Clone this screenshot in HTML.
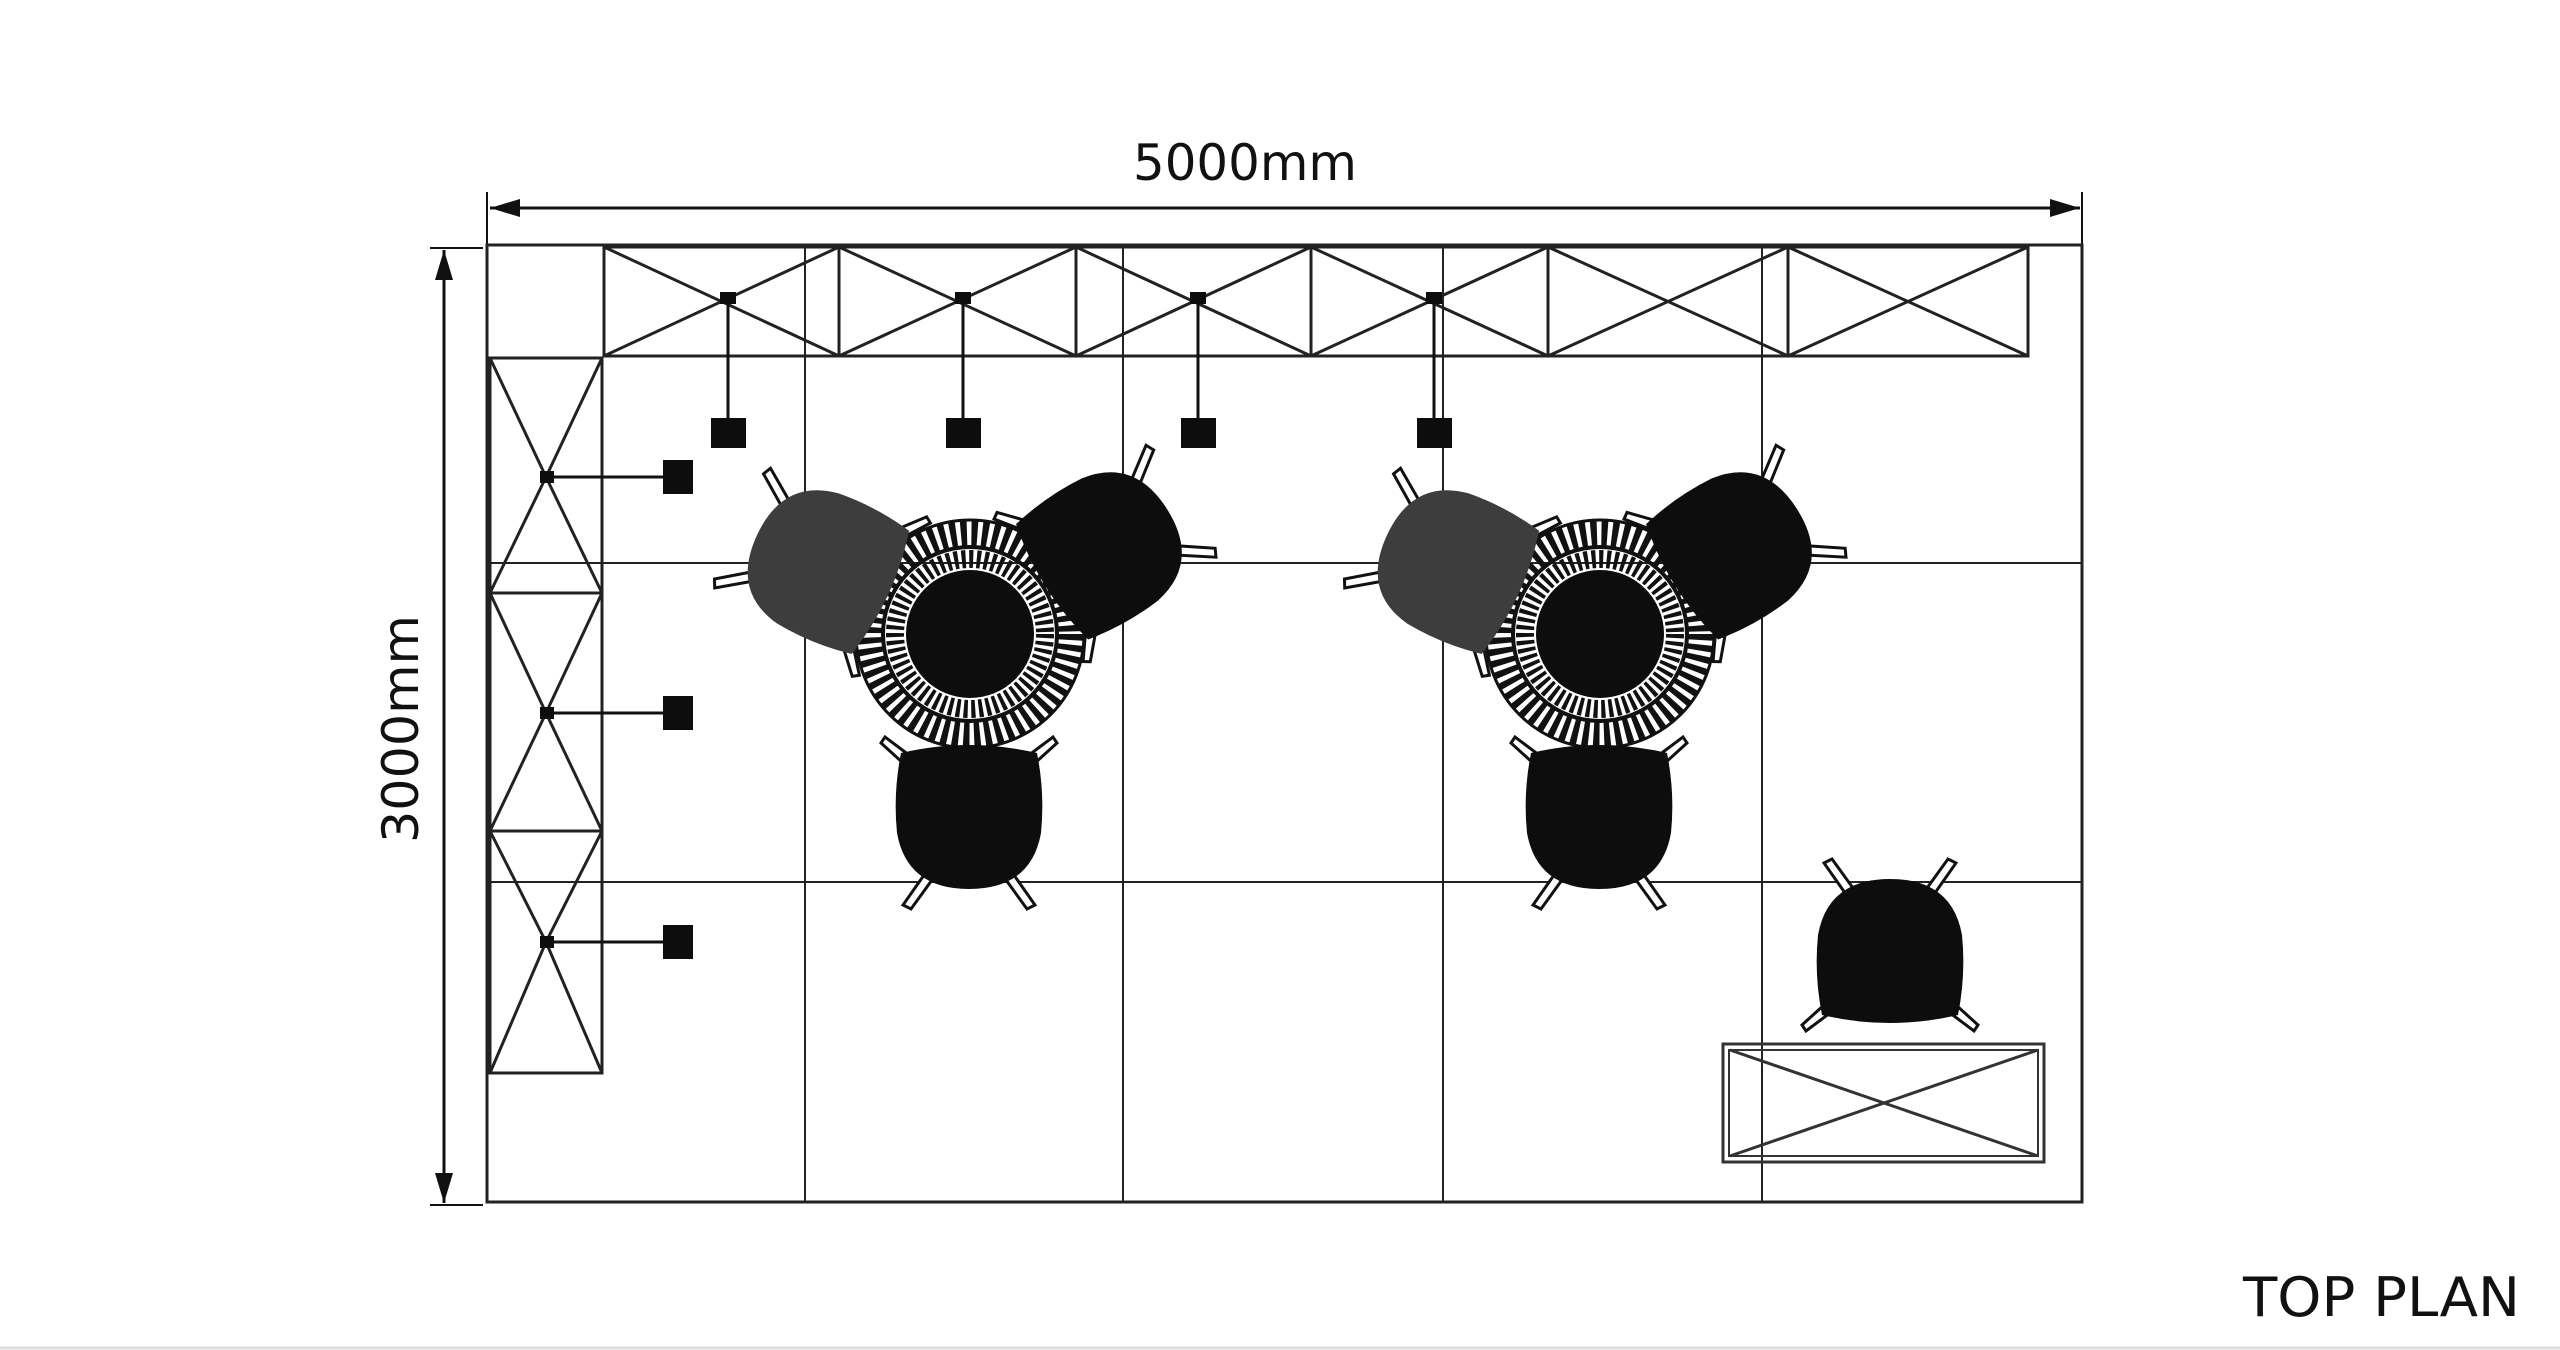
<!DOCTYPE html>
<html><head><meta charset="utf-8"><style>
html,body{margin:0;padding:0;background:#fff;}
svg{display:block;}
text{font-family:"DejaVu Sans","Liberation Sans",sans-serif;fill:#111;}
</style></head><body>
<svg width="2560" height="1350" viewBox="0 0 2560 1350" xmlns="http://www.w3.org/2000/svg">
<defs>
  <g id="chair">
    <g stroke="#111" stroke-width="3" fill="#fff">
      <path d="M-60,-58 L-84,-76 L-88,-70 L-66,-50 Z"/>
      <path d="M60,-58 L84,-76 L88,-70 L66,-50 Z"/>
      <path d="M-40,55 L-66,92 L-58,96 L-32,60 Z"/>
      <path d="M40,55 L66,92 L58,96 L32,60 Z"/>
    </g>
    <path d="M-68,-60 Q0,-76 68,-60 Q76,-20 72,20 Q62,76 0,76 Q-62,76 -72,20 Q-76,-20 -68,-60 Z"/>
  </g>
  <g id="table">
    <circle r="100" fill="none" stroke="#111" stroke-width="26" stroke-dasharray="6 4.5"/>
    <circle r="114" fill="none" stroke="#111" stroke-width="3"/>
    <circle r="87" fill="none" stroke="#111" stroke-width="4"/>
    <circle r="75" fill="none" stroke="#111" stroke-width="18" stroke-dasharray="4 3.5"/>
    <circle r="64" fill="#0d0d0d"/>
  </g>
</defs>

<!-- dimension top -->
<line x1="487" y1="192" x2="487" y2="245" stroke="#111" stroke-width="2"/>
<line x1="2082" y1="192" x2="2082" y2="245" stroke="#111" stroke-width="2"/>
<line x1="490" y1="208" x2="2080" y2="208" stroke="#111" stroke-width="3"/>
<path d="M490,208 L520,199 L520,217 Z" fill="#111"/>
<path d="M2080,208 L2050,199 L2050,217 Z" fill="#111"/>
<text x="1245" y="180" font-size="50" text-anchor="middle" textLength="224" lengthAdjust="spacingAndGlyphs">5000mm</text>

<!-- dimension left -->
<line x1="430" y1="248" x2="483" y2="248" stroke="#111" stroke-width="2"/>
<line x1="430" y1="1205" x2="483" y2="1205" stroke="#111" stroke-width="2"/>
<line x1="444" y1="250" x2="444" y2="1203" stroke="#111" stroke-width="3"/>
<path d="M444,250 L435,280 L453,280 Z" fill="#111"/>
<path d="M444,1203 L435,1173 L453,1173 Z" fill="#111"/>
<text transform="translate(418,729) rotate(-90)" font-size="50" text-anchor="middle" textLength="228" lengthAdjust="spacingAndGlyphs">3000mm</text>

<!-- floor grid -->
<rect x="487" y="245" width="1595" height="957" fill="none" stroke="#222" stroke-width="3"/>
<g stroke="#222" stroke-width="2">
  <line x1="805" y1="245" x2="805" y2="1202"/>
  <line x1="1123" y1="245" x2="1123" y2="1202"/>
  <line x1="1443" y1="245" x2="1443" y2="1202"/>
  <line x1="1762" y1="245" x2="1762" y2="1202"/>
  <line x1="487" y1="563" x2="2082" y2="563"/>
  <line x1="487" y1="882" x2="2082" y2="882"/>
</g>

<!-- top truss -->
<g stroke="#222" stroke-width="3" fill="none">
  <rect x="604" y="247" width="1424" height="109"/>
  <line x1="839" y1="247" x2="839" y2="356"/><line x1="1076" y1="247" x2="1076" y2="356"/>
  <line x1="1311" y1="247" x2="1311" y2="356"/><line x1="1548" y1="247" x2="1548" y2="356"/>
  <line x1="1788" y1="247" x2="1788" y2="356"/>
  <path d="M604,247 L839,356 M604,356 L839,247 M839,247 L1076,356 M839,356 L1076,247 M1076,247 L1311,356 M1076,356 L1311,247 M1311,247 L1548,356 M1311,356 L1548,247 M1548,247 L1788,356 M1548,356 L1788,247 M1788,247 L2028,356 M1788,356 L2028,247"/>
</g>
<!-- left truss -->
<g stroke="#222" stroke-width="3" fill="none">
  <rect x="490" y="358" width="112" height="715"/>
  <line x1="490" y1="593" x2="602" y2="593"/><line x1="490" y1="831" x2="602" y2="831"/>
  <path d="M490,358 L546,477 L602,358 M546,477 L490,593 M546,477 L602,593 M490,593 L546,713 L602,593 M546,713 L490,831 M546,713 L602,831 M490,831 L546,942 L602,831 M546,942 L490,1073 M546,942 L602,1073"/>
</g>

<!-- lamps -->
<g stroke="#111" stroke-width="3">
  <line x1="728" y1="299" x2="728" y2="420"/><line x1="963" y1="299" x2="963" y2="420"/>
  <line x1="1198" y1="299" x2="1198" y2="420"/><line x1="1434" y1="299" x2="1434" y2="420"/>
  <line x1="546" y1="477" x2="665" y2="477"/><line x1="546" y1="713" x2="665" y2="713"/>
  <line x1="546" y1="942" x2="665" y2="942"/>
</g>
<g fill="#0d0d0d">
  <rect x="711" y="418" width="35" height="30"/><rect x="946" y="418" width="35" height="30"/>
  <rect x="1181" y="418" width="35" height="30"/><rect x="1417" y="418" width="35" height="30"/>
  <rect x="663" y="460" width="30" height="34"/><rect x="663" y="696" width="30" height="34"/>
  <rect x="663" y="925" width="30" height="34"/>
  <rect x="720" y="292" width="16" height="12"/><rect x="955" y="292" width="16" height="12"/>
  <rect x="1190" y="292" width="16" height="12"/><rect x="1426" y="292" width="16" height="12"/>
  <rect x="540" y="471" width="14" height="12"/><rect x="540" y="707" width="14" height="12"/>
  <rect x="540" y="936" width="14" height="12"/>
</g>

<!-- group 1 -->
<use href="#table" x="970" y="634"/>
<use href="#chair" transform="translate(826,567) rotate(115)" fill="#3d3d3d"/>
<use href="#chair" transform="translate(1103,550) rotate(-122)" fill="#0d0d0d"/>
<use href="#chair" transform="translate(969,813)" fill="#0d0d0d"/>
<!-- group 2 -->
<use href="#table" x="1600" y="634"/>
<use href="#chair" transform="translate(1456,567) rotate(115)" fill="#3d3d3d"/>
<use href="#chair" transform="translate(1733,550) rotate(-122)" fill="#0d0d0d"/>
<use href="#chair" transform="translate(1599,813)" fill="#0d0d0d"/>

<!-- standalone chair & counter -->
<use href="#chair" transform="translate(1890,955) rotate(180)" fill="#0d0d0d"/>
<g stroke="#333" stroke-width="3" fill="none">
  <rect x="1723" y="1044" width="321" height="118"/>
  <rect x="1729" y="1050" width="309" height="106" stroke-width="2"/>
  <path d="M1730,1050 L2038,1156 M1730,1156 L2038,1050"/>
</g>

<text x="2243" y="1316" font-size="54" textLength="277" lengthAdjust="spacingAndGlyphs">TOP PLAN</text>
<line x1="0" y1="1348" x2="2560" y2="1348" stroke="#ddd" stroke-width="3"/>
</svg>
</body></html>
